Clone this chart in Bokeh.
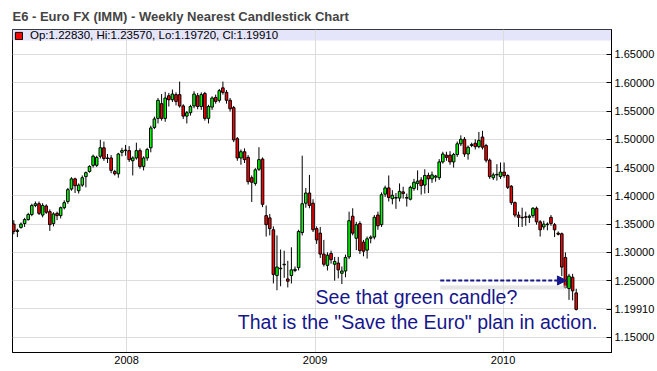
import pandas as pd
from bokeh.plotting import figure
from bokeh.models import (ColumnDataSource, Range1d, FixedTicker, PrintfTickFormatter,
                          DatetimeTickFormatter, BoxAnnotation, Label, Arrow, NormalHead,
                          Legend, LegendItem)
from bokeh.embed import file_html
from bokeh.resources import INLINE

TITLE = "E6 - Euro FX (IMM) - Weekly Nearest Candlestick Chart"
FIRST_WEEK = "2007-05-27"

OPEN = [1.350, 1.337, 1.344, 1.351, 1.358, 1.367, 1.383, 1.386, 1.366, 1.382,
        1.372, 1.351, 1.369, 1.365, 1.379, 1.390, 1.412, 1.430, 1.409, 1.419,
        1.434, 1.443, 1.454, 1.454, 1.470, 1.485, 1.467, 1.467, 1.443, 1.439,
        1.477, 1.480, 1.480, 1.462, 1.467, 1.480, 1.452, 1.467, 1.485, 1.521,
        1.537, 1.563, 1.537, 1.577, 1.570, 1.579, 1.579, 1.559, 1.541, 1.547,
        1.559, 1.577, 1.558, 1.581, 1.537, 1.557, 1.574, 1.569, 1.591, 1.583,
        1.569, 1.556, 1.501, 1.467, 1.478, 1.468, 1.432, 1.422, 1.447, 1.465,
        1.365, 1.361, 1.340, 1.259, 1.271, 1.278, 1.253, 1.259, 1.268, 1.273,
        1.335, 1.387, 1.405, 1.387, 1.342, 1.334, 1.297, 1.277, 1.298, 1.279,
        1.281, 1.263, 1.267, 1.292, 1.364, 1.325, 1.351, 1.318, 1.304, 1.325,
        1.327, 1.366, 1.349, 1.403, 1.414, 1.395, 1.396, 1.396, 1.407, 1.396,
        1.394, 1.413, 1.422, 1.428, 1.419, 1.436, 1.430, 1.433, 1.432, 1.460,
        1.472, 1.472, 1.460, 1.473, 1.492, 1.500, 1.474, 1.489, 1.493, 1.487,
        1.504, 1.489, 1.463, 1.432, 1.437, 1.434, 1.442, 1.436, 1.417, 1.388,
        1.366, 1.362, 1.363, 1.362, 1.365, 1.378, 1.354, 1.345, 1.349, 1.362,
        1.349, 1.334, 1.333, 1.291, 1.236, 1.256, 1.2283]
HIGH = [1.357, 1.342, 1.353, 1.361, 1.370, 1.386, 1.390, 1.390, 1.387, 1.385,
        1.376, 1.371, 1.372, 1.381, 1.392, 1.414, 1.433, 1.432, 1.422, 1.436,
        1.443, 1.454, 1.473, 1.471, 1.499, 1.496, 1.474, 1.472, 1.446, 1.476,
        1.485, 1.490, 1.488, 1.470, 1.494, 1.484, 1.470, 1.485, 1.524, 1.540,
        1.573, 1.580, 1.584, 1.582, 1.588, 1.583, 1.602, 1.562, 1.550, 1.561,
        1.585, 1.582, 1.583, 1.584, 1.561, 1.576, 1.579, 1.589, 1.602, 1.587,
        1.573, 1.559, 1.504, 1.482, 1.484, 1.472, 1.436, 1.449, 1.486, 1.468,
        1.383, 1.368, 1.346, 1.330, 1.305, 1.303, 1.285, 1.309, 1.275, 1.340,
        1.471, 1.414, 1.437, 1.394, 1.346, 1.345, 1.322, 1.300, 1.303, 1.292,
        1.292, 1.275, 1.296, 1.372, 1.378, 1.354, 1.355, 1.322, 1.328, 1.330,
        1.366, 1.372, 1.406, 1.418, 1.436, 1.410, 1.405, 1.422, 1.416, 1.404,
        1.418, 1.430, 1.445, 1.433, 1.447, 1.441, 1.443, 1.437, 1.465, 1.478,
        1.478, 1.479, 1.476, 1.496, 1.507, 1.504, 1.489, 1.494, 1.500, 1.513,
        1.515, 1.492, 1.466, 1.441, 1.456, 1.459, 1.459, 1.438, 1.419, 1.390,
        1.372, 1.379, 1.372, 1.367, 1.380, 1.381, 1.357, 1.356, 1.353, 1.366,
        1.352, 1.337, 1.335, 1.300, 1.262, 1.262, 1.2357]
LOW = [1.332, 1.327, 1.342, 1.345, 1.356, 1.364, 1.380, 1.366, 1.362, 1.368,
       1.338, 1.346, 1.357, 1.360, 1.376, 1.386, 1.409, 1.405, 1.404, 1.416,
       1.415, 1.441, 1.450, 1.451, 1.466, 1.462, 1.458, 1.440, 1.436, 1.432,
       1.470, 1.471, 1.460, 1.436, 1.464, 1.448, 1.445, 1.462, 1.477, 1.518,
       1.528, 1.533, 1.531, 1.558, 1.566, 1.560, 1.556, 1.536, 1.528, 1.542,
       1.555, 1.553, 1.552, 1.533, 1.528, 1.552, 1.563, 1.565, 1.579, 1.563,
       1.549, 1.495, 1.462, 1.455, 1.458, 1.420, 1.389, 1.418, 1.444, 1.380,
       1.328, 1.330, 1.245, 1.233, 1.240, 1.255, 1.238, 1.245, 1.265, 1.268,
       1.330, 1.379, 1.378, 1.336, 1.315, 1.290, 1.275, 1.268, 1.280, 1.250,
       1.254, 1.244, 1.256, 1.288, 1.330, 1.304, 1.297, 1.293, 1.289, 1.316,
       1.323, 1.340, 1.345, 1.398, 1.390, 1.385, 1.377, 1.390, 1.395, 1.381,
       1.392, 1.409, 1.410, 1.402, 1.404, 1.405, 1.423, 1.425, 1.428, 1.457,
       1.462, 1.455, 1.450, 1.469, 1.488, 1.469, 1.464, 1.486, 1.482, 1.484,
       1.482, 1.459, 1.430, 1.428, 1.427, 1.430, 1.432, 1.412, 1.384, 1.362,
       1.345, 1.345, 1.347, 1.352, 1.361, 1.349, 1.328, 1.340, 1.339, 1.347,
       1.327, 1.330, 1.258, 1.236, 1.216, 1.215, 1.1972]
CLOSE = [1.337, 1.339, 1.350, 1.358, 1.367, 1.383, 1.386, 1.369, 1.383, 1.371,
         1.349, 1.368, 1.365, 1.379, 1.388, 1.411, 1.430, 1.418, 1.419, 1.432,
         1.441, 1.452, 1.470, 1.468, 1.485, 1.466, 1.466, 1.445, 1.439, 1.474,
         1.480, 1.481, 1.464, 1.467, 1.480, 1.452, 1.467, 1.482, 1.520, 1.536,
         1.569, 1.537, 1.573, 1.570, 1.580, 1.567, 1.559, 1.541, 1.547, 1.558,
         1.580, 1.558, 1.579, 1.537, 1.558, 1.573, 1.567, 1.586, 1.583, 1.569,
         1.554, 1.499, 1.467, 1.478, 1.464, 1.425, 1.424, 1.446, 1.464, 1.385,
         1.349, 1.342, 1.261, 1.274, 1.272, 1.279, 1.249, 1.269, 1.270, 1.337,
         1.386, 1.405, 1.383, 1.340, 1.322, 1.297, 1.279, 1.295, 1.287, 1.284,
         1.269, 1.267, 1.291, 1.356, 1.334, 1.349, 1.303, 1.302, 1.324, 1.327,
         1.362, 1.347, 1.402, 1.414, 1.397, 1.401, 1.397, 1.408, 1.404, 1.397,
         1.415, 1.424, 1.426, 1.418, 1.436, 1.430, 1.437, 1.435, 1.460, 1.474,
         1.468, 1.460, 1.473, 1.492, 1.500, 1.474, 1.486, 1.491, 1.487, 1.498,
         1.486, 1.463, 1.434, 1.437, 1.438, 1.442, 1.436, 1.415, 1.388, 1.366,
         1.362, 1.361, 1.362, 1.364, 1.378, 1.354, 1.340, 1.350, 1.350, 1.351,
         1.340, 1.332, 1.274, 1.238, 1.258, 1.232, 1.1991]

YEAR_TICKS = ["2008-01-01", "2009-01-01", "2010-01-01"]
PRICE_TICKS = [1.15, 1.25, 1.30, 1.35, 1.40, 1.45, 1.50, 1.55, 1.60, 1.65]
GRID_PRICES = [1.15, 1.20, 1.25, 1.30, 1.35, 1.40, 1.45, 1.50, 1.55, 1.60, 1.65]
X_START, X_END = "2007-05-24 12:00", "2010-07-30 12:00"
Y_MIN, Y_MAX = 1.1229, 1.6942

NOTE_1 = "See that green candle?"
NOTE_2 = 'That is the "Save the Euro" plan in action.'
NOTE_1_POS = ("2009-01-02", 1.2203)
NOTE_2_POS = ("2008-08-04", 1.1761)
ARROW_FROM = ("2009-09-01", 1.2503)
ARROW_TO = ("2010-05-04", 1.2503)

UP_COLOR, DOWN_COLOR = "#00ff00", "#ff0000"
NAVY = "#16168c"
FONT = "Liberation Sans"


def ms(d):
    return pd.Timestamp(d).value / 1e6


weeks = pd.date_range(FIRST_WEEK, periods=len(CLOSE), freq="7D")
src = ColumnDataSource(dict(
    x=weeks, open=OPEN, high=HIGH, low=LOW, close=CLOSE,
    top=[max(o, c) for o, c in zip(OPEN, CLOSE)],
    bottom=[min(o, c) for o, c in zip(OPEN, CLOSE)],
    color=[UP_COLOR if c >= o else DOWN_COLOR for o, c in zip(OPEN, CLOSE)],
))

p = figure(width=657, height=371, x_axis_type="datetime", y_axis_location="right",
           x_range=Range1d(pd.Timestamp(X_START), pd.Timestamp(X_END)),
           y_range=Range1d(Y_MIN, Y_MAX),
           output_backend="svg", toolbar_location=None,
           min_border_left=12, min_border_right=46, min_border_top=29, min_border_bottom=19)

p.title.text = TITLE
p.title.text_font = FONT
p.title.text_font_size = "13px"
p.title.text_font_style = "bold"
p.title.standoff = 12
p.outline_line_color = "black"
p.outline_line_width = 1
p.background_fill_color = "white"
p.border_fill_color = "white"

year_ticker = FixedTicker(ticks=[ms(t) for t in YEAR_TICKS])
p.xaxis.ticker = year_ticker
p.xgrid.ticker = year_ticker
p.xaxis.formatter = DatetimeTickFormatter(
    years="%Y", months="%Y", days="%Y", hours="%Y", hourmin="%Y", minutes="%Y",
    minsec="%Y", seconds="%Y", milliseconds="%Y", microseconds="%Y")
p.xaxis.major_tick_in = 0
p.xaxis.major_tick_out = 0
p.xaxis.minor_tick_in = 0
p.xaxis.minor_tick_out = 0
p.xaxis.major_label_standoff = 3

# price axis: regular ticks plus the last close, as on the original
p.yaxis.ticker = FixedTicker(ticks=PRICE_TICKS + [CLOSE[-1]])
p.ygrid.ticker = FixedTicker(ticks=GRID_PRICES)
p.yaxis.formatter = PrintfTickFormatter(format="%.5f")
p.yaxis.major_tick_in = 5
p.yaxis.major_tick_out = 0
p.yaxis.minor_tick_in = 0
p.yaxis.minor_tick_out = 0
p.yaxis.major_label_standoff = 3

for ax in (p.xaxis, p.yaxis):
    ax.axis_line_color = "black"
    ax.major_tick_line_color = "black"
    ax.major_label_text_font = FONT
    ax.major_label_text_font_size = "11px"
    ax.major_label_text_color = "black"

p.grid.grid_line_color = "#dcdcdc"

band = BoxAnnotation(top=Y_MAX, bottom=Y_MAX - 11 / 565.4, fill_color="#e4e4fa",
                     fill_alpha=1, line_color=None, level="image")
p.add_layout(band)

p.segment(x0="x", y0="high", x1="x", y1="low", source=src, line_color="black", line_width=1)
bodies = p.vbar(x="x", width=5 * 86400000, top="top", bottom="bottom", source=src,
                fill_color="color", line_color="black", line_width=1)

# legend shows the last candle's OHLC, keyed by that candle's own glyph
legend_text = f"Op:{OPEN[-1]:.5f}, Hi:{HIGH[-1]:.5f}, Lo:{LOW[-1]:.5f}, Cl:{CLOSE[-1]:.5f}"
legend = Legend(items=[LegendItem(label=legend_text, renderers=[bodies], index=len(CLOSE) - 1)],
                location=(2, 311), margin=0, padding=0, spacing=0,
                glyph_width=9, glyph_height=9, label_height=9, label_standoff=7,
                label_text_font=FONT, label_text_font_size="11.5px", label_text_color="black",
                background_fill_alpha=0, border_line_color=None)
p.add_layout(legend)

shadow = Arrow(end=None, x_start=ms(ARROW_FROM[0]), y_start=ARROW_FROM[1] - 7 / 565.4,
               x_end=ms(ARROW_TO[0]), y_end=ARROW_TO[1] - 7 / 565.4,
               line_color="#d4d4d4", line_width=4, line_alpha=0.6)
p.add_layout(shadow)
arrow = Arrow(end=NormalHead(size=9, fill_color=NAVY, line_color=NAVY),
              x_start=ms(ARROW_FROM[0]), y_start=ARROW_FROM[1],
              x_end=ms(ARROW_TO[0]), y_end=ARROW_TO[1],
              line_color=NAVY, line_width=2, line_dash="4 2")
p.add_layout(arrow)

for txt, (d, yv) in ((NOTE_1, NOTE_1_POS), (NOTE_2, NOTE_2_POS)):
    p.add_layout(Label(x=ms(d), y=yv, text=txt, text_font=FONT, text_font_size="19.5px",
                       text_color=NAVY, text_baseline="alphabetic", text_align="left"))

open("out.html", "w").write(file_html(p, INLINE))
